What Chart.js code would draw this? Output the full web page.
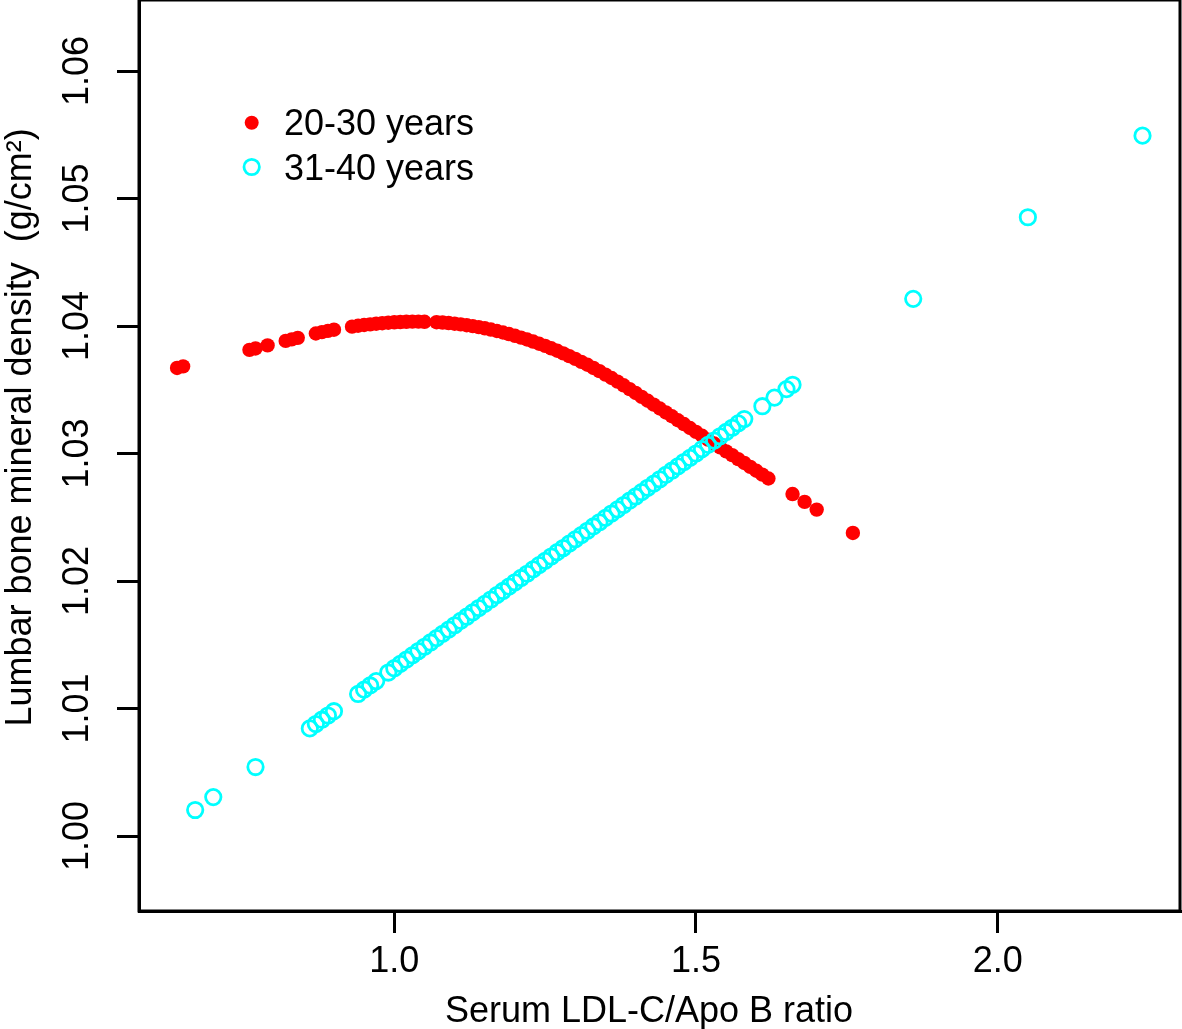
<!DOCTYPE html>
<html>
<head>
<meta charset="utf-8">
<script src="https://cdn.jsdelivr.net/npm/chart.js@4.4.1/dist/chart.umd.min.js"></script>
<style>
html,body{margin:0;padding:0;background:#ffffff;}
canvas{display:block;}
</style>
</head>
<body>
<canvas id="chart" width="1182" height="1029"></canvas>
<script>
// ---------- data ----------
const seriesNames = ['20-30 years', '31-40 years'];

const redX = [0.64,0.65,0.76,0.77,0.79,0.82,0.83,0.84,0.87,0.88,0.89,0.90,
  0.93,0.94,0.95,0.96,0.97,0.98,0.99,1.00,1.01,1.02,1.03,1.04,1.05,
  1.07,1.08,1.09,1.10,1.11,1.12,1.13,1.14,1.15,1.16,1.17,1.18,1.19,1.20,
  1.21,1.22,1.23,1.24,1.25,1.26,1.27,1.28,1.29,1.30,1.31,1.32,1.33,1.34,
  1.35,1.36,1.37,1.38,1.39,1.40,1.41,1.42,1.43,1.44,1.45,1.46,1.47,1.48,
  1.49,1.50,1.51,1.52,1.53,1.54,1.55,1.56,1.57,1.58,1.59,1.60,1.61,1.62,
  1.66,1.68,1.70,1.76];
const redY = [1.03671,1.03683,1.03813,1.03824,1.03848,1.03883,1.03895,1.03907,1.03941,1.03952,1.03962,1.03971,
  1.03995,1.04002,1.04008,1.04013,1.04018,1.04022,1.04026,1.04029,1.04031,1.04033,1.04034,1.04034,1.04033,
  1.04030,1.04027,1.04023,1.04018,1.04013,1.04006,1.03999,1.03991,1.03982,1.03972,1.03961,1.03949,1.03937,1.03923,
  1.03909,1.03894,1.03878,1.03861,1.03844,1.03825,1.03806,1.03785,1.03764,1.03742,1.03719,1.03696,1.03671,1.03646,
  1.03619,1.03592,1.03564,1.03535,1.03505,1.03475,1.03444,1.03414,1.03383,1.03353,1.03322,1.03292,1.03261,1.03231,
  1.03200,1.03170,1.03139,1.03109,1.03078,1.03048,1.03017,1.02987,1.02956,1.02926,1.02895,1.02865,1.02834,1.02804,
  1.02682,1.02621,1.02560,1.02377];

const cyanX = [0.67,0.70,0.77,0.86,0.87,0.88,0.89,0.90,0.94,0.95,0.96,0.97,
  0.99,1.00,1.01,1.02,1.03,1.04,1.05,1.06,1.07,1.08,1.09,1.10,1.11,1.12,1.13,1.14,
  1.15,1.16,1.17,1.18,1.19,1.20,1.21,1.22,1.23,1.24,1.25,1.26,1.27,1.28,1.29,1.30,
  1.31,1.32,1.33,1.34,1.35,1.36,1.37,1.38,1.39,1.40,1.41,1.42,1.43,1.44,1.45,1.46,
  1.47,1.48,1.49,1.50,1.51,1.52,1.53,1.54,1.55,1.56,1.57,1.58,1.61,1.63,1.65,1.66,
  1.86,2.05,2.24];
const cyanY = [1.00204,1.00305,1.00541,1.00844,1.00878,1.00912,1.00945,1.00979,1.01114,1.01148,1.01181,1.01215,
  1.01282,1.01316,1.01350,1.01383,1.01417,1.01451,1.01484,1.01518,1.01552,1.01585,1.01619,1.01653,1.01687,1.01720,1.01754,1.01788,
  1.01821,1.01855,1.01889,1.01922,1.01956,1.01990,1.02024,1.02057,1.02091,1.02125,1.02158,1.02192,1.02226,1.02259,1.02293,1.02327,
  1.02360,1.02394,1.02428,1.02461,1.02495,1.02529,1.02562,1.02596,1.02630,1.02663,1.02697,1.02731,1.02764,1.02798,1.02832,1.02865,
  1.02899,1.02933,1.02966,1.03000,1.03034,1.03068,1.03101,1.03135,1.03169,1.03202,1.03236,1.03270,1.03371,1.03438,1.03505,1.03539,
  1.04213,1.04853,1.05493];

const xTicks = [1.0, 1.5, 2.0];
const xTickLabels = ['1.0', '1.5', '2.0'];
const yTicks = [1.00, 1.01, 1.02, 1.03, 1.04, 1.05, 1.06];
const yTickLabels = ['1.00', '1.01', '1.02', '1.03', '1.04', '1.05', '1.06'];
const xTitle = 'Serum LDL-C/Apo B ratio';
const yTitle = 'Lumbar bone mineral density  (g/cm\u00B2)';

// ---------- styling ----------
const FONT = '"Liberation Sans", Arial, Helvetica, sans-serif';
const RED = '#FF0000';
const CYAN = '#00FFFF';

const toPoints = (xs, ys) => xs.map((x, i) => ({ x: x, y: ys[i] }));

const framePlugin = {
  id: 'rframe',
  afterDraw(chart) {
    const { ctx, chartArea: a, scales: { x, y } } = chart;
    ctx.save();
    // full box
    ctx.strokeStyle = '#000';
    ctx.lineWidth = 3;
    ctx.strokeRect(a.left, a.top, a.right - a.left, a.bottom - a.top);

    ctx.fillStyle = '#000';
    ctx.font = '36px ' + FONT;
    ctx.textAlign = 'center';
    ctx.textBaseline = 'alphabetic';
    // x tick labels
    xTicks.forEach((v, i) => {
      ctx.fillText(xTickLabels[i], x.getPixelForValue(v), a.bottom + 61);
    });
    // y tick labels (rotated, R style)
    yTicks.forEach((v, i) => {
      ctx.save();
      ctx.translate(a.left - 51, y.getPixelForValue(v));
      ctx.rotate(-Math.PI / 2);
      ctx.fillText(yTickLabels[i], 0, 0);
      ctx.restore();
    });
    // axis titles
    ctx.fillText(xTitle, 649, a.bottom + 110.5);
    ctx.save();
    ctx.translate(31, 427.5);
    ctx.rotate(-Math.PI / 2);
    ctx.fillText(yTitle, 0, 0);
    ctx.restore();

    // legend
    ctx.beginPath();
    ctx.arc(251.7, 122.7, 7, 0, Math.PI * 2);
    ctx.fillStyle = RED;
    ctx.fill();
    ctx.beginPath();
    ctx.arc(251.7, 167, 7.7, 0, Math.PI * 2);
    ctx.strokeStyle = CYAN;
    ctx.lineWidth = 2.8;
    ctx.stroke();
    ctx.fillStyle = '#000';
    ctx.textAlign = 'left';
    ctx.fillText(seriesNames[0], 284, 135);
    ctx.fillText(seriesNames[1], 284, 179.5);
    ctx.restore();
  }
};

new Chart(document.getElementById('chart').getContext('2d'), {
  type: 'scatter',
  data: {
    datasets: [
      {
        label: seriesNames[0],
        data: toPoints(redX, redY),
        pointRadius: 7.2,
        pointHoverRadius: 7.2,
        pointBackgroundColor: RED,
        pointBorderColor: RED,
        pointBorderWidth: 0,
        order: 2
      },
      {
        label: seriesNames[1],
        data: toPoints(cyanX, cyanY),
        pointRadius: 7.7,
        pointHoverRadius: 7.7,
        pointBackgroundColor: 'rgba(0,0,0,0)',
        pointBorderColor: CYAN,
        pointBorderWidth: 2.8,
        order: 1
      }
    ]
  },
  options: {
    responsive: false,
    animation: false,
    devicePixelRatio: 1,
    events: [],
    layout: { autoPadding: false, padding: { left: 0, right: 2, top: 0, bottom: 0 } },
    plugins: { legend: { display: false }, tooltip: { enabled: false } },
    scales: {
      x: {
        type: 'linear',
        position: 'bottom',
        min: 0.5769,
        max: 2.30212,
        afterBuildTicks: s => { s.ticks = xTicks.map(v => ({ value: v })); },
        afterFit: s => { s.height = 118; },
        grid: { display: true, drawOnChartArea: false, drawTicks: true, tickLength: 22, tickWidth: 3, tickColor: '#000', color: '#000', lineWidth: 3 },
        border: { display: true, color: '#000', width: 3 },
        ticks: { display: false }
      },
      y: {
        type: 'linear',
        position: 'left',
        min: 0.994118,
        max: 1.065569,
        afterBuildTicks: s => { s.ticks = yTicks.map(v => ({ value: v })); },
        afterFit: s => { s.width = 139; },
        grid: { display: true, drawOnChartArea: false, drawTicks: true, tickLength: 22, tickWidth: 3, tickColor: '#000', color: '#000', lineWidth: 3 },
        border: { display: true, color: '#000', width: 3 },
        ticks: { display: false }
      }
    }
  },
  plugins: [framePlugin]
});
</script>
</body>
</html>
